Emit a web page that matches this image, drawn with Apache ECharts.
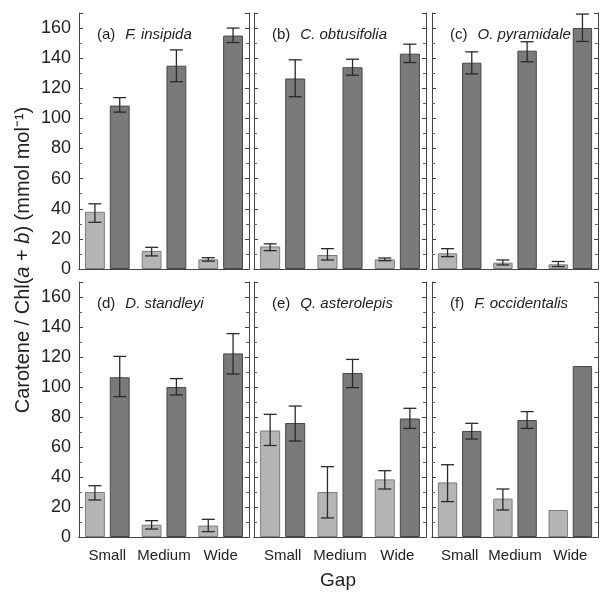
<!DOCTYPE html>
<html>
<head>
<meta charset="utf-8">
<script src="https://cdn.jsdelivr.net/npm/echarts@6/dist/echarts.min.js"></script>
<style>
  html, body { margin: 0; padding: 0; background: #fff; }
  #chart { width: 602px; height: 592px; }
</style>
</head>
<body>
<div id="chart"></div>
<script>
// categories and panel names
const gaps = ['Small', 'Medium', 'Wide'];
const panelTags = ['(a)', '(b)', '(c)', '(d)', '(e)', '(f)'];
const species = ['F. insipida', 'C. obtusifolia', 'O. pyramidale', 'D. standleyi', 'Q. asterolepis', 'F. occidentalis'];

// light bars: mean, lower and upper end of error bar (one row per panel)
const lightMean = [[38, 12, 6.4], [15, 9.3, 6.4], [10.4, 4.2, 3.1], [30, 8.2, 7.6], [71, 30, 38.4], [36.4, 25.6, 18]];
const lightLow = [[31, 8.7, 5.2], [12.2, 6, 5.5], [8.2, 2.7, 1.6], [24.7, 5.3, 3.6], [61, 12.7, 32], [23.6, 18, null]];
const lightHigh = [[43.3, 14.4, 7.5], [16.7, 13.5, 7.3], [13.5, 6, 5], [34.2, 10.9, 11.8], [81.8, 46.9, 44.2], [48.2, 32, null]];

// dark bars
const darkMean = [[108.5, 135, 155], [126.5, 134, 143], [137, 145, 160], [106.5, 100, 122.4], [76, 109.3, 79], [70.7, 78, 114]];
const darkLow = [[104.2, 124.4, 150.4], [114.4, 128.7, 137.1], [129.6, 137.6, 151.1], [93.6, 94.7, 108.7], [64, 99.6, 72.4], [65.3, 72.4, null]];
const darkHigh = [[113.8, 145.5, 160], [138.9, 139.3, 149.3], [144.2, 150.9, 169.3], [120.4, 105.6, 135.6], [87.3, 118.4, 85.8], [75.8, 83.6, null]];

const yTicks = [0, 20, 40, 60, 80, 100, 120, 140, 160];

const cols = [{ left: 79, width: 170 }, { left: 254, width: 172 }, { left: 432, width: 166 }];
const rows = [{ top: 13, height: 256 }, { top: 282, height: 255 }];

const lightColor = '#b5b5b5';
const darkColor = '#7a7a7a';
const lineColor = '#444';
const textColor = '#222';
const font = 'Liberation Sans, Arial, sans-serif';

const chart = echarts.init(document.getElementById('chart'));

const grid = [], xAxis = [], yAxis = [], series = [], title = [];

function errorSeries(p, low, high, side) {
    const data = [];
    gaps.forEach((g, i) => {
        if (low[p][i] != null) data.push([i, low[p][i], high[p][i]]);
    });
    return {
        type: 'custom',
        xAxisIndex: p * 2,
        yAxisIndex: p * 2,
        z: 5,
        silent: true,
        data: data,
        renderItem: function (params, api) {
            const w = api.size([1, 0])[0];
            const bw = w * 0.35;
            const x = api.coord([api.value(0), 0])[0] + side * bw * 1.25 / 2;
            const yl = api.coord([api.value(0), api.value(1)])[1];
            const yh = api.coord([api.value(0), api.value(2)])[1];
            const cap = 6.5;
            const st = { stroke: '#2a2a2a', lineWidth: 1.3 };
            return {
                type: 'group',
                children: [
                    { type: 'line', shape: { x1: x, y1: yl, x2: x, y2: yh }, style: st },
                    { type: 'line', shape: { x1: x - cap, y1: yl, x2: x + cap, y2: yl }, style: st },
                    { type: 'line', shape: { x1: x - cap, y1: yh, x2: x + cap, y2: yh }, style: st }
                ]
            };
        }
    };
}

for (let p = 0; p < 6; p++) {
    const r = rows[Math.floor(p / 3)];
    const c = cols[p % 3];
    grid.push({ left: c.left, top: r.top, width: c.width, height: r.height });

    const bottomRow = p >= 3;
    const firstCol = p % 3 === 0;

    xAxis.push({
        type: 'category', gridIndex: p, data: gaps, position: 'bottom',
        axisLine: { lineStyle: { color: lineColor } },
        axisTick: { inside: true, length: 4, lineStyle: { color: lineColor } },
        axisLabel: { show: bottomRow, interval: 0, hideOverlap: false, fontSize: 15, color: textColor, fontFamily: font, margin: 11 }
    });
    xAxis.push({
        type: 'category', gridIndex: p, data: gaps, position: 'top',
        axisLine: { lineStyle: { color: lineColor } },
        axisTick: { inside: true, length: 4, lineStyle: { color: lineColor } },
        axisLabel: { show: false }
    });
    yAxis.push({
        type: 'value', gridIndex: p, min: 0, max: 170, interval: 20, position: 'left',
        splitLine: { show: false },
        axisLine: { show: true, lineStyle: { color: lineColor } },
        axisTick: { show: true, inside: true, length: 4, lineStyle: { color: lineColor } },
        minorTick: { show: true, splitNumber: 2, length: 3, lineStyle: { color: '#666' } },
        axisLabel: {
            show: firstCol, fontSize: 18, color: textColor, fontFamily: font, margin: 8,
            formatter: v => yTicks.indexOf(v) >= 0 ? String(v) : ''
        }
    });
    yAxis.push({
        type: 'value', gridIndex: p, min: 0, max: 170, interval: 20, position: 'right',
        splitLine: { show: false },
        axisLine: { show: true, lineStyle: { color: lineColor } },
        axisTick: { show: true, inside: true, length: 4, lineStyle: { color: lineColor } },
        minorTick: { show: true, splitNumber: 2, length: 3, lineStyle: { color: '#666' } },
        axisLabel: { show: false }
    });

    series.push({
        type: 'bar', xAxisIndex: p * 2, yAxisIndex: p * 2,
        data: lightMean[p], barWidth: '35%', barGap: '25%',
        itemStyle: { color: lightColor, borderColor: '#7d7d7d', borderWidth: 1 },
        silent: true
    });
    series.push({
        type: 'bar', xAxisIndex: p * 2, yAxisIndex: p * 2,
        data: darkMean[p], barWidth: '35%', barGap: '25%',
        itemStyle: { color: darkColor, borderColor: '#474747', borderWidth: 1 },
        silent: true
    });
    series.push(errorSeries(p, lightLow, lightHigh, -1));
    series.push(errorSeries(p, darkLow, darkHigh, 1));

    title.push({
        text: '{n|' + panelTags[p] + '}  {i|' + species[p] + '}',
        left: c.left + 13, top: r.top + 8,
        textStyle: {
            fontWeight: 'normal',
            rich: {
                n: { fontSize: 15, color: textColor, fontFamily: font, fontWeight: 'normal' },
                i: { fontSize: 15, color: textColor, fontFamily: font, fontWeight: 'normal', fontStyle: 'italic' }
            }
        }
    });
}

chart.setOption({
    animation: false,
    title: title,
    grid: grid,
    xAxis: xAxis,
    yAxis: yAxis,
    series: series,
    graphic: [
        {
            type: 'text', x: 23, y: 260, rotation: Math.PI / 2,
            style: {
                text: 'Carotene / Chl({i|a} + {i|b}) (mmol mol⁻¹)',
                fontSize: 20, fill: textColor, fontFamily: font,
                align: 'center', verticalAlign: 'middle',
                rich: { i: { fontSize: 20, fill: textColor, fontFamily: font, fontStyle: 'italic' } }
            }
        },
        {
            type: 'text', x: 338, y: 581,
            style: {
                text: 'Gap', fontSize: 19, fill: textColor, fontFamily: font,
                align: 'center', verticalAlign: 'middle'
            }
        }
    ]
});
</script>
</body>
</html>
